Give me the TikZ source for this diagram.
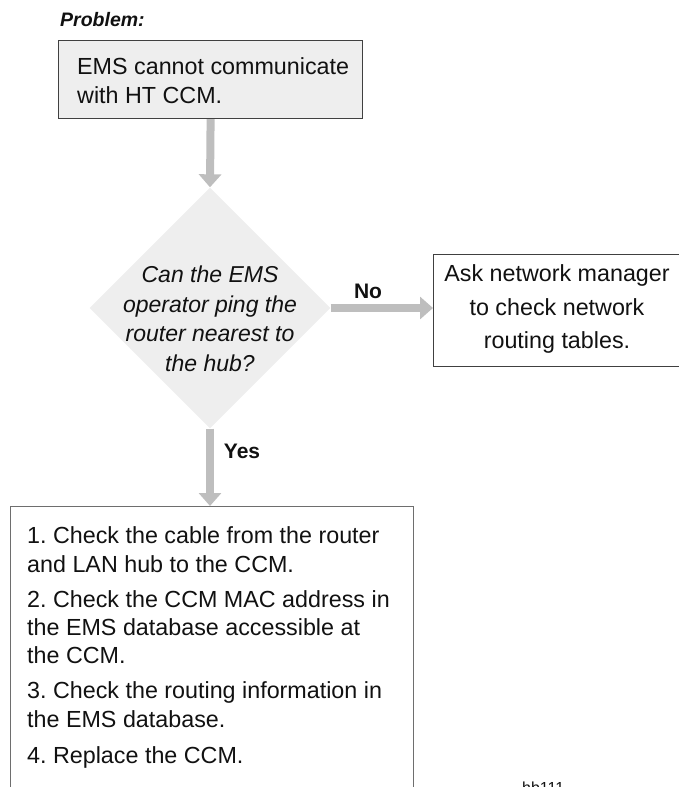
\documentclass[tikz,border=0pt]{standalone}
\usepackage{fontspec}
\setmainfont{Liberation Sans}
\usetikzlibrary{shapes.geometric,arrows.meta}
\definecolor{boxfill}{HTML}{EEEEEE}
\definecolor{arrowgray}{HTML}{BEBEBE}
\definecolor{edgedark}{HTML}{404040}
\definecolor{edgemid}{HTML}{6E6E6E}
\definecolor{ink}{HTML}{111111}
\frenchspacing
\begin{document}
\begin{tikzpicture}[x=1pt,y=-1pt,
  box/.style={draw, line width=1.2pt, inner sep=0pt, anchor=north west},
  txt/.style={font=\fontsize{23.3}{28}\selectfont, text=ink, inner sep=0pt},
  itxt/.style={font=\fontsize{23}{28}\selectfont\itshape, text=ink, inner sep=0pt, anchor=base},
  flow/.style={draw=arrowgray, line width=8pt, -{Triangle[width=22pt,length=13pt]}},
  lbl/.style={font=\fontsize{21}{25}\selectfont\bfseries, text=ink, inner sep=0pt, anchor=base}]
\useasboundingbox (0,0) rectangle (679,787);
\clip (0,0) rectangle (679,787);

% title
\node[font=\fontsize{19.5}{23}\selectfont\bfseries\itshape, text=ink, inner sep=0pt, anchor=base west] (title) at (60,26) {Problem:};

% boxes
\node[box, fill=boxfill, draw=edgedark, minimum width=304pt, minimum height=78pt] (prob) at (58,40) {};
\node[diamond, fill=boxfill, minimum size=241pt, inner sep=0pt, aspect=1] (q) at (210,308) {};
\node[box, draw=edgedark, minimum width=260pt, minimum height=112pt] (ask) at (433,254) {};
\node[box, draw=edgemid, minimum width=403pt, minimum height=320pt] (act) at (10,506) {};

% connectors
\draw[flow] (prob.south) -- (q.north);
\draw[flow] (q.east) -- (q.east -| ask.west);
\draw[flow] (q.south) -- (q.south |- act.north);

% labels
\node[lbl] (no) at (368,298) {No};
\node[lbl] (yes) at (242,458) {Yes};

% problem text
\node[txt, anchor=base west] (p1) at (77,74) {EMS cannot communicate};
\node[txt, anchor=base west] (p2) at (77,103) {with HT CCM.};

% question text
\node[itxt] (q1) at (210,282) {Can the EMS};
\node[itxt] (q2) at (210,312) {operator ping the};
\node[itxt] (q3) at (210,341) {router nearest to};
\node[itxt] (q4) at (210,371) {the hub?};

% right box text
\node[txt, anchor=base] (a1) at (557,281) {Ask network manager};
\node[txt, anchor=base] (a2) at (557,315) {to check network};
\node[txt, anchor=base] (a3) at (557,348) {routing tables.};

% action text
\node[txt, anchor=base west] (s1) at (27,543) {1. Check the cable from the router};
\node[txt, anchor=base west] (s2) at (27,572) {and LAN hub to the CCM.};
\node[txt, anchor=base west] (s3) at (27,607) {2. Check the CCM MAC address in};
\node[txt, anchor=base west] (s4) at (27,635) {the EMS database accessible at};
\node[txt, anchor=base west] (s5) at (27,663) {the CCM.};
\node[txt, anchor=base west] (s6) at (27,698) {3. Check the routing information in};
\node[txt, anchor=base west] (s7) at (27,727) {the EMS database.};
\node[txt, anchor=base west] (s8) at (27,763) {4. Replace the CCM.};

% figure id
\node[font=\fontsize{16}{19}\selectfont, text=ink, inner sep=0pt, anchor=base west] (fid) at (522,793) {hb111};
\end{tikzpicture}
\end{document}
